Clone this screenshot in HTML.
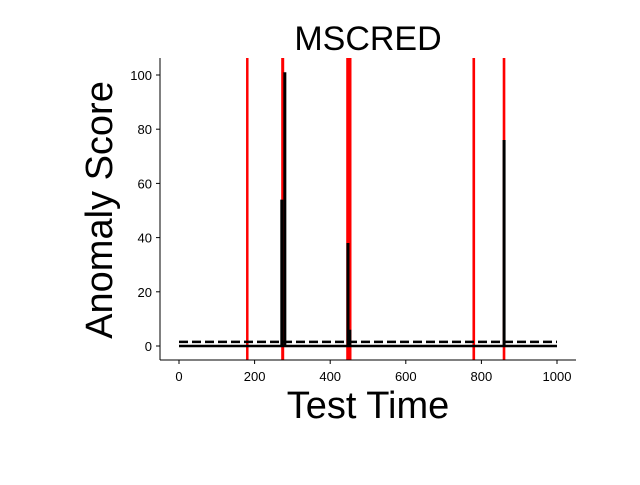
<!DOCTYPE html>
<html><head><meta charset="utf-8"><style>
body{margin:0;background:#fff;width:640px;height:480px;overflow:hidden}
svg{font-family:"Liberation Sans",sans-serif}
</style></head><body>
<svg width="640" height="480" id="c">
<text x="368" y="50" font-size="34" text-anchor="middle">MSCRED</text>
<text x="368" y="418" font-size="38" text-anchor="middle">Test Time</text>
<text transform="translate(112,210) rotate(-90)" font-size="38" text-anchor="middle">Anomaly Score</text>
<g id="marks"></g>
<line x1="160" y1="58" x2="160" y2="360" stroke="#000" stroke-width="1"/>
<line x1="160" y1="360" x2="576" y2="360" stroke="#000" stroke-width="1"/>
<g id="ticks"></g>
</svg>
<script>
const xTicks=[0,200,400,600,800,1000];
const yTicks=[0,20,40,60,80,100];
const anomalyRanges=[[180,182],[273,277],[445,455],[779,782],[859,862]];
const spikeTimes=[272,280,447,452,860];
const spikeScores=[54,101,38,6,76];
const baselineScore=0;
const threshold=1.5;
const tStart=0,tEnd=1000;
const X=v=>179+v*0.378, Y=v=>346-v*2.71;
const NS="http://www.w3.org/2000/svg";
const m=document.getElementById('marks'),tk=document.getElementById('ticks');
function mk(tag,a,p){const e=document.createElementNS(NS,tag);for(const k in a)e.setAttribute(k,a[k]);p.appendChild(e);return e;}
anomalyRanges.forEach(r=>{
 const e=mk('rect',{x:X(r[0])-1,y:58,width:Math.max(X(r[1])-X(r[0]),1)+1.5,height:302,fill:'#ff0000'},m);
 
 
});
const base=mk('line',{x1:X(tStart),x2:X(tEnd),y1:Y(baselineScore),y2:Y(baselineScore),stroke:'#000','stroke-width':2.5},m);


spikeTimes.forEach((t,i)=>{
 const e=mk('line',{x1:X(t),x2:X(t),y1:Y(baselineScore),y2:Y(spikeScores[i]),stroke:'#000','stroke-width':3},m);
 
 
});
const th=mk('line',{x1:X(tStart),x2:X(tEnd),y1:Y(threshold),y2:Y(threshold),stroke:'#000','stroke-width':2.5,'stroke-dasharray':'9,4'},m);


xTicks.forEach(v=>{
 mk('line',{x1:X(v),x2:X(v),y1:360,y2:364,stroke:'#000'},tk);
 const t=mk('text',{x:X(v),y:381,'font-size':13,'text-anchor':'middle'},tk);t.textContent=v;
 
 
});
yTicks.forEach(v=>{
 mk('line',{x1:156,x2:160,y1:Y(v),y2:Y(v),stroke:'#000'},tk);
 const t=mk('text',{x:152,y:Y(v)+5,'font-size':13,'text-anchor':'end'},tk);t.textContent=v;
 
 
});
</script>
</body></html>
